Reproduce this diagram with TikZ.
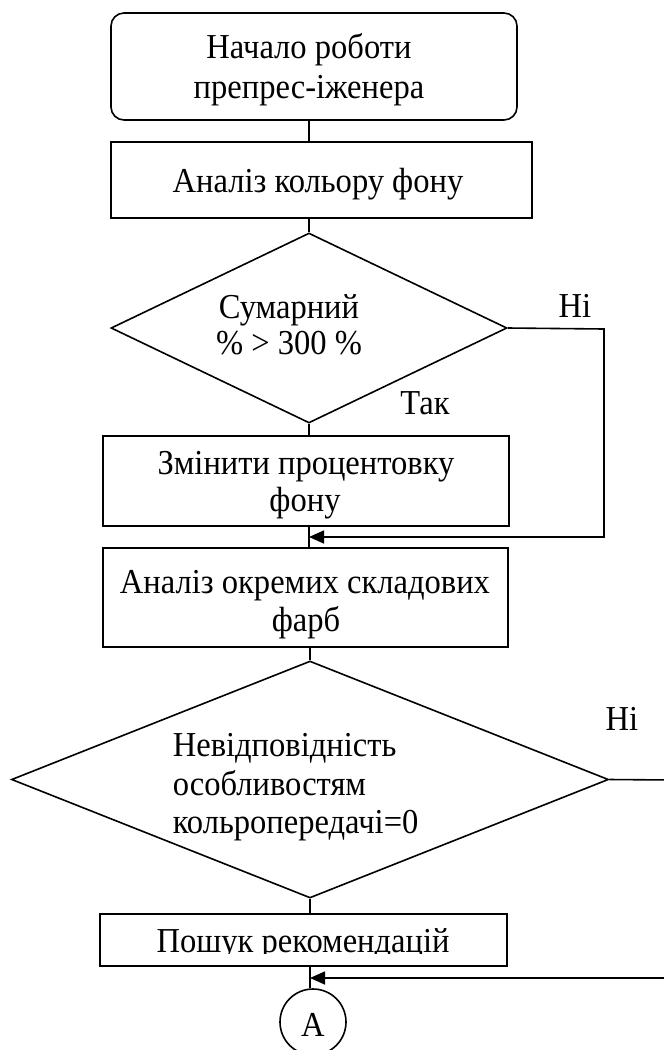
\documentclass[tikz,border=0pt]{standalone}
\usepackage{fontspec}
\setmainfont{Liberation Serif}[FakeStretch=0.93]
\usetikzlibrary{shapes.geometric,arrows.meta,calc}
\begin{document}
\begin{tikzpicture}[x=1pt,y=-1pt,
  line width=1.6pt,
  box/.style={draw, rectangle, inner sep=0pt, line width=1.6pt},
  dia/.style={draw, diamond, inner sep=0pt, line width=1.6pt},
  txt/.style={font=\fontsize{35}{40}\selectfont, inner sep=0pt, anchor=base},
  arr/.style={-{Triangle[length=15pt,width=13pt]}},
]
\useasboundingbox (0,0) rectangle (664,1050);
\clip (0,0) rectangle (664,1050);
% shapes
\node[box, rounded corners=13pt, minimum width=406pt, minimum height=107pt] (start) at (314,66.5) {};
\node[box, minimum width=421pt, minimum height=76pt] (anal1) at (321.5,180) {};
\node[dia, minimum width=396pt, minimum height=190pt] (dec1) at (309,328) {};
\node[box, minimum width=406pt, minimum height=90pt] (change) at (306,481) {};
\node[box, minimum width=405pt, minimum height=99pt] (anal2) at (305.5,597.5) {};
\node[dia, minimum width=597pt, minimum height=237pt] (dec2) at (310,779.5) {};
\node[box, minimum width=407pt, minimum height=52pt] (search) at (303.5,940) {};
\node[draw, circle, minimum size=66pt, inner sep=0pt, line width=1.6pt] (conA) at (313,1022) {};
% texts
\node[txt] (t1a) at (309,58) {Начало роботи};
\node[txt] (t1b) at (309,98) {препрес-іженера};
\node[txt] (t2) at (318,192) {Аналіз кольору фону};
\node[txt] (t3a) at (289,318) {Сумарний};
\node[txt] (t3b) at (289,354) {\% > 300 \%};
\node[txt] (no1) at (575,317) {Ні};
\node[txt] (yes1) at (425,414) {Так};
\node[txt] (t4a) at (306,474) {Змінити процентовку};
\node[txt] (t4b) at (305,511) {фону};
\node[txt] (t5a) at (305,593) {Аналіз окремих складових};
\node[txt] (t5b) at (306,631) {фарб};
\node[txt, anchor=base west] (t6a) at (172,756) {Невідповідність};
\node[txt, anchor=base west] (t6b) at (172,795) {особливостям};
\node[txt, anchor=base west] (t6c) at (172,833) {кольропередачі=0};
\node[txt] (no2) at (622,730) {Ні};
\begin{scope}
\clip (100,914) rectangle (507,953);
\node[txt] (t7) at (303,952) {Пошук рекомендацій};
\end{scope}
\node[txt] (tA) at (313,1036) {А};
% axis coordinates
\coordinate (j1) at (309,537);
\coordinate (c1) at (604,329);
\coordinate (j2) at (310,978);
\coordinate (c2) at (672,780);
% connectors
\draw (dec1.north |- start.south) -- (dec1.north |- anal1.north);
\draw (dec1.north |- anal1.south) -- (dec1.north);
\draw (dec1.south) -- (dec1.south |- change.north);
\draw (dec1.south |- change.south) -- (dec1.south |- anal2.north);
\draw (dec2.north |- anal2.south) -- (dec2.north);
\draw (dec2.south) -- (dec2.south |- search.north);
\draw (j2 |- search.south) -- (j2 |- conA.north);
\draw[arr] (dec1.east) -- (c1) |- (j1);
\draw[arr] (dec2.east) -- (c2) |- (j2);
\end{tikzpicture}
\end{document}
